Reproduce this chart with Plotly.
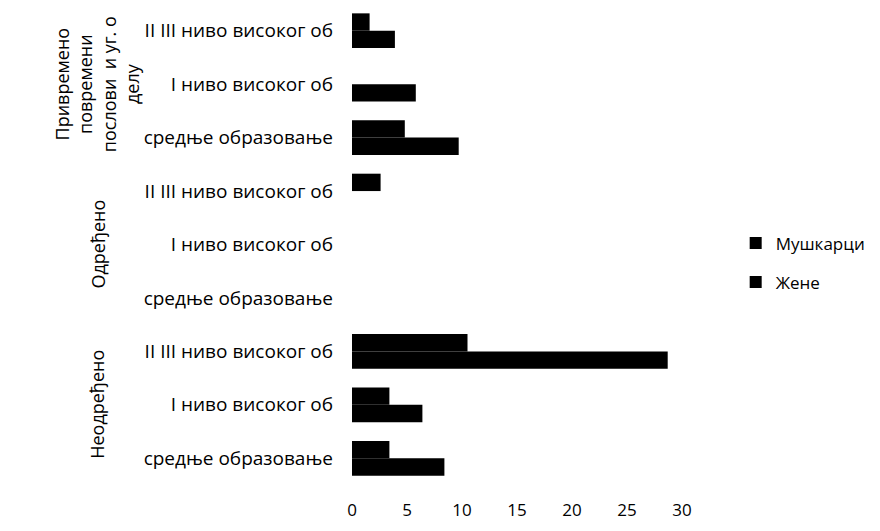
import plotly.graph_objects as go

# Employment type groups (bottom to top) and education levels inside each group
groups = ["Неодређено", "Одређено", "Привремено<br>повремени<br>послови  и уг. о<br>делу"]
levels = ["средње образовање", "I ниво високог об", "II III ниво високог об"]

# Values per group, listed in the order of `levels`
men = {
    "Неодређено": [8.4, 6.4, 28.7],
    "Одређено": [0, 0, 0],
    "Привремено": [9.7, 5.8, 3.9],
}
women = {
    "Неодређено": [3.4, 3.4, 10.5],
    "Одређено": [0, 0, 2.6],
    "Привремено": [4.8, 0, 1.6],
}
group_keys = ["Неодређено", "Одређено", "Привремено"]

x_ticks = [0, 5, 10, 15, 20, 25, 30]

FONT = "Open Sans"
BLACK = "#000000"

# Flatten the nested categories into one row per (group, level)
positions, tick_text, men_vals, women_vals = [], [], [], []
for gi, key in enumerate(group_keys):
    for li, lvl in enumerate(levels):
        positions.append(gi * len(levels) + li)
        tick_text.append(lvl)
        men_vals.append(men[key][li])
        women_vals.append(women[key][li])

fig = go.Figure()
fig.add_trace(go.Bar(
    name="Мушкарци", y=positions, x=men_vals, orientation="h",
    marker=dict(color=BLACK, line=dict(width=0)), legendgroup="m",
))
fig.add_trace(go.Bar(
    name="Жене", y=positions, x=women_vals, orientation="h",
    marker=dict(color=BLACK, line=dict(width=0)), legendgroup="f",
))

# Plot area in pixels, used to place the rotated group labels
PLOT_LEFT, PLOT_W = 352, 330

# Rotated outer-level labels, centred on each group's middle row
for gi, label in enumerate(groups):
    mid = gi * len(levels) + (len(levels) - 1) / 2
    fig.add_annotation(
        x=(97 - PLOT_LEFT) / PLOT_W, xref="paper", y=mid, yref="y",
        text=label, textangle=-90, showarrow=False,
        font=dict(family=FONT, size=18, color=BLACK),
        xanchor="center", yanchor="middle",
    )

fig.update_layout(
    width=880, height=531,
    margin=dict(l=PLOT_LEFT, r=880 - PLOT_LEFT - PLOT_W, t=4, b=46),
    paper_bgcolor="white", plot_bgcolor="white",
    barmode="group", bargap=0.35, bargroupgap=0,
    font=dict(family=FONT, size=19, color=BLACK),
    showlegend=True,
    legend=dict(
        x=0.836, xref="container", y=0.505, yref="container",
        xanchor="left", yanchor="middle",
        traceorder="grouped", tracegroupgap=14,
        font=dict(family=FONT, size=17, color=BLACK),
        itemwidth=30, borderwidth=0,
    ),
    xaxis=dict(
        range=[0, 30], tickvals=x_ticks, showgrid=False, zeroline=False,
        showline=False, ticks="", ticklabelstandoff=13,
        tickfont=dict(family=FONT, size=17, color=BLACK),
    ),
    yaxis=dict(
        tickvals=positions, ticktext=tick_text,
        range=[-0.5, len(positions) - 0.5],
        showgrid=False, zeroline=False, showline=False, ticks="",
        ticklabelstandoff=18,
        tickfont=dict(family=FONT, size=19, color=BLACK),
    ),
)

fig.write_html("out.html")
